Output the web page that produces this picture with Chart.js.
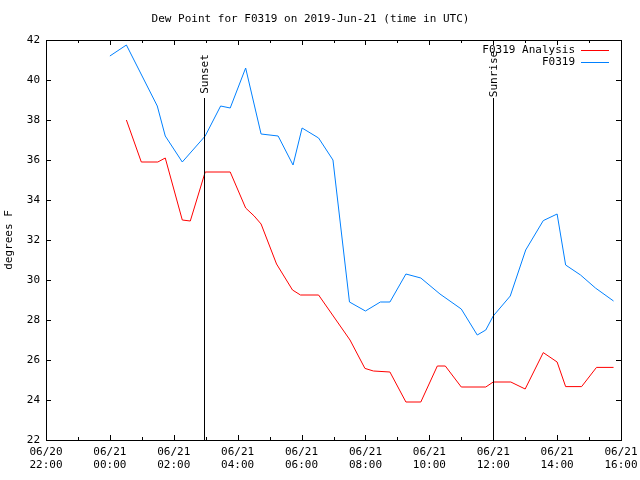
<!DOCTYPE html>
<html>
<head>
<meta charset="utf-8">
<script src="https://cdn.jsdelivr.net/npm/chart.js@4/dist/chart.umd.min.js"></script>
<style>
  html, body { margin:0; padding:0; background:#fff; }
  #wrap { width:640px; height:480px; }
</style>
</head>
<body>
<div id="wrap"><canvas id="c" width="640" height="480"></canvas></div>
<script>
// data (times are UTC on 06/21)
const analysisTimes = ['00:31','00:59','01:30','01:44','02:16','02:31','02:59','03:46','04:15','04:31','04:44','05:13','05:43','05:58','06:32','07:31','07:59','08:15','08:46','09:16','09:44','10:15','10:30','11:00','11:46','12:00','12:33','13:00','13:34','14:00','14:16','14:46','15:14','15:46'];
const analysisValues = [38.0,35.9,35.9,36.1,33.0,32.95,35.4,35.4,33.6,33.2,32.8,30.8,29.5,29.25,29.25,27.0,25.58,25.45,25.4,23.9,23.9,25.7,25.7,24.65,24.65,24.9,24.9,24.55,26.37,25.9,24.67,24.67,25.63,25.63];
const obsTimes = ['00:00','00:31','01:29','01:44','02:16','02:59','03:28','03:46','04:15','04:44','05:16','05:44','06:01','06:32','06:59','07:30','08:00','08:28','08:46','09:16','09:44','10:20','11:00','11:30','11:46','12:00','12:32','13:01','13:34','14:00','14:16','14:44','15:12','15:46'];
const obsValues = [41.2,41.75,38.7,37.2,35.9,37.2,38.7,38.6,40.6,37.3,37.2,35.75,37.6,37.1,36.0,28.9,28.45,28.9,28.9,30.3,30.1,29.3,28.55,27.25,27.5,28.2,29.2,31.5,32.97,33.3,30.75,30.25,29.6,28.95];
const seriesNames = ['F0319 Analysis','F0319'];
const seriesColors = ['#ff0000','#0080ff'];
const sunLabels = ['Sunset','Sunrise'];
const sunTimes = ['02:57','12:00'];
const xMin = -2, xMax = 16;   // hours relative to 06/21 00:00
const yMin = 22, yMax = 42;

const toHours = s => { const [h,m] = s.split(':').map(Number); return h + m/60; };
const pts = (ts, vs) => ts.map((t,i) => ({ x: toHours(t), y: vs[i] }));
const pad2 = n => String(n).padStart(2,'0');

const FONT = "'DejaVu Sans Mono', monospace";
Chart.defaults.font.family = FONT;
Chart.defaults.font.size = 11;
Chart.defaults.color = '#000';

const framePlugin = {
  id: 'frame',
  afterDatasetsDraw(chart){
    const {ctx, chartArea:a, scales:{x, y}} = chart;
    ctx.save();
    ctx.strokeStyle = '#000';
    ctx.lineWidth = 1;
    // border
    ctx.strokeRect(Math.round(a.left)+0.5, Math.round(a.top)+0.5, Math.round(a.right-a.left), Math.round(a.bottom-a.top));
    ctx.beginPath();
    // x ticks, inward, top and bottom
    for (let h = xMin; h <= xMax; h++) {
      const px = Math.round(x.getPixelForValue(h)) + 0.5;
      const len = (h % 2 === 0) ? 5 : 3;
      ctx.moveTo(px, a.bottom); ctx.lineTo(px, a.bottom - len);
      ctx.moveTo(px, a.top); ctx.lineTo(px, a.top + len);
    }
    // y ticks, inward, left and right
    for (let v = yMin; v <= yMax; v += 2) {
      const py = Math.round(y.getPixelForValue(v)) + 0.5;
      ctx.moveTo(a.left, py); ctx.lineTo(a.left + 5, py);
      ctx.moveTo(a.right, py); ctx.lineTo(a.right - 5, py);
    }
    ctx.stroke();
    // sunset / sunrise markers
    ctx.font = '11px ' + FONT;
    ctx.fillStyle = '#000';
    sunTimes.forEach((t, i) => {
      const px = Math.round(x.getPixelForValue(toHours(t))) + 0.5;
      ctx.beginPath();
      ctx.moveTo(px, y.getPixelForValue(39.1));
      ctx.lineTo(px, a.bottom);
      ctx.stroke();
      ctx.save();
      ctx.translate(px + 1, y.getPixelForValue(40.3));
      ctx.rotate(-Math.PI/2);
      ctx.textAlign = 'center';
      ctx.textBaseline = 'middle';
      ctx.fillText(sunLabels[i], 0, 0);
      ctx.restore();
    });
    // legend, text then sample line
    ctx.textAlign = 'right';
    ctx.textBaseline = 'middle';
    chart.data.datasets.forEach((ds, i) => {
      const py = a.top + 10 + i*12;
      ctx.fillText(ds.label, a.right - 46, py);
      ctx.beginPath();
      ctx.strokeStyle = ds.borderColor;
      ctx.moveTo(a.right - 40, Math.round(py) + 0.5);
      ctx.lineTo(a.right - 12, Math.round(py) + 0.5);
      ctx.stroke();
    });
    ctx.restore();
  }
};

new Chart(document.getElementById('c'), {
  type: 'line',
  data: {
    datasets: [
      { label: seriesNames[0], data: pts(analysisTimes, analysisValues), borderColor: seriesColors[0] },
      { label: seriesNames[1], data: pts(obsTimes, obsValues), borderColor: seriesColors[1] }
    ]
  },
  options: {
    responsive: false,
    animation: false,
    layout: { padding: { left: 0, right: 19, top: 0, bottom: 0 } },
    elements: { line: { borderWidth: 1, tension: 0 }, point: { radius: 0 } },
    plugins: {
      legend: { display: false },
      tooltip: { enabled: false },
      title: {
        display: true,
        text: 'Dew Point for F0319 on 2019-Jun-21 (time in UTC)',
        font: { size: 11, weight: 'normal', lineHeight: '13px' },
        padding: { top: 13, bottom: 14 }
      }
    },
    scales: {
      x: {
        type: 'linear', min: xMin, max: xMax,
        grid: { display: false, drawTicks: false }, border: { display: false },
        afterFit: s => { s.height = 40; s.paddingLeft = 0; s.paddingRight = 0; },
        ticks: {
          stepSize: 1, autoSkip: false, maxRotation: 0, padding: 6,
          font: { lineHeight: '13px' },
          callback: v => {
            if (v % 2 !== 0) return '';
            const day = v < 0 ? '06/20' : '06/21';
            const hr = (v + 24) % 24;
            return [day, pad2(hr) + ':00'];
          }
        }
      },
      y: {
        min: yMin, max: yMax,
        grid: { display: false, drawTicks: false }, border: { display: false },
        afterFit: s => { s.width = 46; s.paddingTop = 0; s.paddingBottom = 0; },
        ticks: { stepSize: 2, padding: 6 },
        title: { display: true, text: 'degrees F', font: { lineHeight: '13px' }, padding: { top: 3, bottom: 0 } }
      }
    }
  },
  plugins: [framePlugin]
});
</script>
</body>
</html>
